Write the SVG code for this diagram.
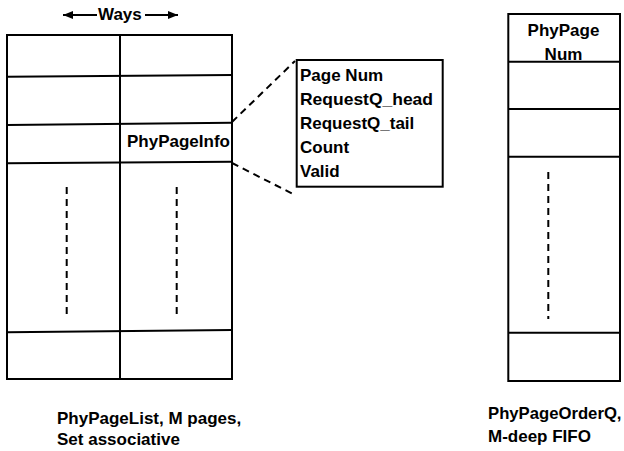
<svg xmlns="http://www.w3.org/2000/svg" width="624" height="451" viewBox="0 0 624 451">
<style>
.t{font-family:"Liberation Sans",Arial,sans-serif;font-weight:bold;font-size:17px;fill:#000}
.ln{stroke:#000;stroke-width:2;fill:none}
.dash{stroke:#000;stroke-width:2;fill:none;stroke-dasharray:7,5}
</style>
<defs>
<marker id="ah" viewBox="0 0 10 8" refX="10" refY="4" markerWidth="10" markerHeight="8" markerUnits="userSpaceOnUse" orient="auto">
<path d="M0,0 L10,4 L0,8 Z" fill="#000"/>
</marker>
</defs>
<rect width="624" height="451" fill="#fff"/>
<g id="ways">
<line class="ln" x1="97" y1="15" x2="63" y2="15" marker-end="url(#ah)"/>
<line class="ln" x1="145" y1="15" x2="178" y2="15" marker-end="url(#ah)"/>
<text class="t" x="98" y="19.5" font-size="16.5">Ways</text>
</g>
<g id="phypagelist">
<rect class="ln" x="7" y="35" width="225" height="344"/>
<line class="ln" x1="120" y1="35" x2="120" y2="379"/>
<line class="ln" x1="7" y1="76.7" x2="232" y2="75"/>
<line class="ln" x1="7" y1="125" x2="232" y2="122.7"/>
<line class="ln" x1="7" y1="163.3" x2="232" y2="161.7"/>
<line class="ln" x1="7" y1="332.3" x2="232" y2="330"/>
<line class="dash" x1="66.7" y1="187" x2="66.7" y2="314"/>
<line class="dash" x1="176.7" y1="187" x2="176.7" y2="314"/>
<text class="t" x="127" y="146.5">PhyPageInfo</text>
</g>
<g id="phypageinfo">
<rect class="ln" x="296.7" y="60" width="146" height="126.7"/>
<text class="t" x="300" y="81">Page Num</text>
<text class="t" x="300" y="105" textLength="133" lengthAdjust="spacingAndGlyphs">RequestQ_head</text>
<text class="t" x="300" y="129">RequestQ_tail</text>
<text class="t" x="300" y="153">Count</text>
<text class="t" x="300" y="177">Valid</text>
</g>
<g id="connectors">
<line class="dash" x1="232" y1="122" x2="295" y2="61"/>
<line class="dash" x1="232" y1="163" x2="295" y2="195"/>
</g>
<g id="phypageorderq">
<rect class="ln" x="508.3" y="14" width="111.7" height="367"/>
<line class="ln" x1="508.3" y1="61.7" x2="620" y2="61.7"/>
<line class="ln" x1="508.3" y1="109" x2="620" y2="109"/>
<line class="ln" x1="508.3" y1="156.7" x2="620" y2="156.7"/>
<line class="ln" x1="508.3" y1="332.7" x2="620" y2="332.7"/>
<line class="dash" x1="548.3" y1="172" x2="548.3" y2="319"/>
<text class="t" x="563.5" y="36" text-anchor="middle">PhyPage</text>
<text class="t" x="563.5" y="59.5" text-anchor="middle">Num</text>
</g>
<g id="label-list">
<text class="t" x="57" y="424.3">PhyPageList, M pages,</text>
<text class="t" x="57" y="445">Set associative</text>
</g>
<g id="label-queue">
<text class="t" x="488" y="419" textLength="133.5" lengthAdjust="spacingAndGlyphs">PhyPageOrderQ,</text>
<text class="t" x="488" y="441.5">M-deep FIFO</text>
</g>
</svg>
